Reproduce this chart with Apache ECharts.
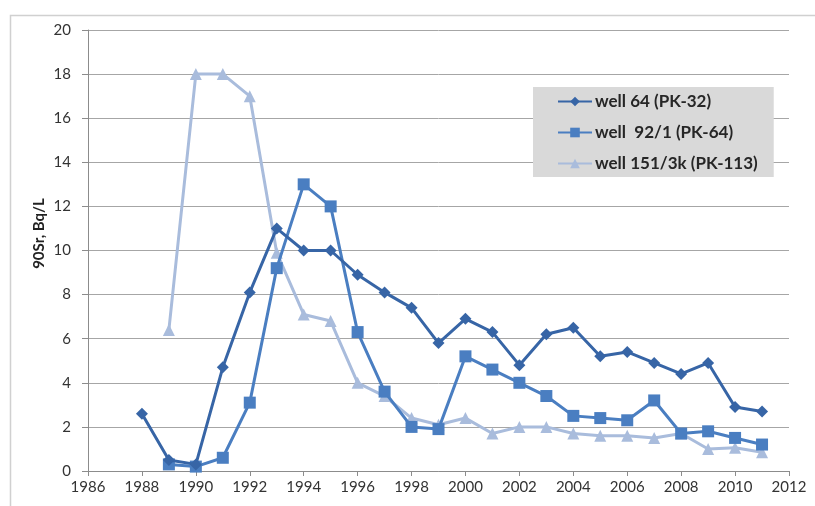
<!DOCTYPE html>
<html>
<head>
<meta charset="utf-8">
<script src="https://cdn.jsdelivr.net/npm/echarts@6/dist/echarts.min.js"></script>
<style>html,body{margin:0;padding:0;background:#fff}#c{width:815px;height:506px}</style>
</head>
<body>
<div id="c"></div>
<script>
const years1 = [1988,1989,1990,1991,1992,1993,1994,1995,1996,1997,1998,1999,2000,2001,2002,2003,2004,2005,2006,2007,2008,2009,2010,2011];
const well64 = [2.6,0.5,0.3,4.7,8.1,11.0,10.0,10.0,8.9,8.1,7.4,5.8,6.9,6.3,4.8,6.2,6.5,5.2,5.4,4.9,4.4,4.9,2.9,2.7];
const years2 = [1989,1990,1991,1992,1993,1994,1995,1996,1997,1998,1999,2000,2001,2002,2003,2004,2005,2006,2007,2008,2009,2010,2011];
const well92 = [0.3,0.2,0.6,3.1,9.2,13.0,12.0,6.3,3.6,2.0,1.9,5.2,4.6,4.0,3.4,2.5,2.4,2.3,3.2,1.7,1.8,1.5,1.2];
const years3 = [1989,1990,1991,1992,1993,1994,1995,1996,1997,1998,1999,2000,2001,2002,2003,2004,2005,2006,2007,2008,2009,2010,2011];
const well151 = [6.4,18.0,18.0,17.0,9.9,7.1,6.8,4.0,3.4,2.4,2.1,2.4,1.7,2.0,2.0,1.7,1.6,1.6,1.5,1.7,1.0,1.05,0.85];
const seriesNames = ['well 64 (PK-32)', 'well  92/1 (PK-64)', 'well 151/3k (PK-113)'];
const yAxisName = '90Sr, Bq/L';

const pair = (xs, ys) => xs.map((x, i) => [x, ys[i]]);
const font = 'Lato, "Open Sans", sans-serif';
const chart = echarts.init(document.getElementById('c'), null, {renderer: 'canvas'});
chart.setOption({
  animation: false,
  backgroundColor: '#fff',
  graphic: [{
    type: 'rect', left: 8, top: 13, silent: true,
    shape: {width: 900, height: 600},
    style: {fill: 'none', stroke: '#D0D0D0', lineWidth: 1.5}
  }],
  grid: {left: 88, right: 26, top: 30, bottom: 35, containLabel: false},
  legend: {
    orient: 'vertical', left: 533, top: 87,
    backgroundColor: '#D9D9D9',
    padding: [6, 16, 5, 24],
    itemGap: 14, itemWidth: 34, itemHeight: 12,
    textStyle: {fontFamily: font, fontSize: 17, fontWeight: 'bold', color: '#262626', padding: [0, 0, 0, -2]},
    data: seriesNames
  },
  xAxis: {
    type: 'value', min: 1986, max: 2012, interval: 2,
    axisLine: {show: true, lineStyle: {color: '#8C8C8C', width: 1}},
    axisTick: {show: true, inside: false, length: 5, lineStyle: {color: '#8C8C8C'}},
    axisLabel: {fontFamily: font, fontSize: 15, color: '#333', margin: 9, formatter: v => String(v)},
    splitLine: {show: false}
  },
  yAxis: {
    type: 'value', min: 0, max: 20, interval: 2,
    name: yAxisName, nameLocation: 'middle', nameGap: 41, nameRotate: 90,
    nameMoveOverlap: false,
    nameTextStyle: {fontFamily: font, fontSize: 15, fontWeight: 'bold', color: '#222', padding: [0, 0, 0, 34]},
    axisLine: {show: true, lineStyle: {color: '#8C8C8C', width: 1}},
    axisTick: {show: true, inside: false, length: 6, lineStyle: {color: '#8C8C8C'}},
    axisLabel: {fontFamily: font, fontSize: 15, color: '#333', margin: 17},
    splitLine: {show: true, lineStyle: {color: '#A6A6A6', width: 1}}
  },
  series: [
    {
      name: seriesNames[0], type: 'line', data: pair(years1, well64),
      symbol: 'diamond', symbolSize: 12,
      lineStyle: {color: '#3765A6', width: 3},
      itemStyle: {color: '#3765A6'}, z: 3
    },
    {
      name: seriesNames[1], type: 'line', data: pair(years2, well92),
      symbol: 'rect', symbolSize: 12,
      lineStyle: {color: '#4A7EC1', width: 3},
      itemStyle: {color: '#4A7EC1'}, z: 2
    },
    {
      name: seriesNames[2], type: 'line', data: pair(years3, well151),
      symbol: 'triangle', symbolSize: 12,
      lineStyle: {color: '#A9BCDC', width: 3},
      itemStyle: {color: '#A9BCDC'}, z: 1
    }
  ]
});
</script>
</body>
</html>
